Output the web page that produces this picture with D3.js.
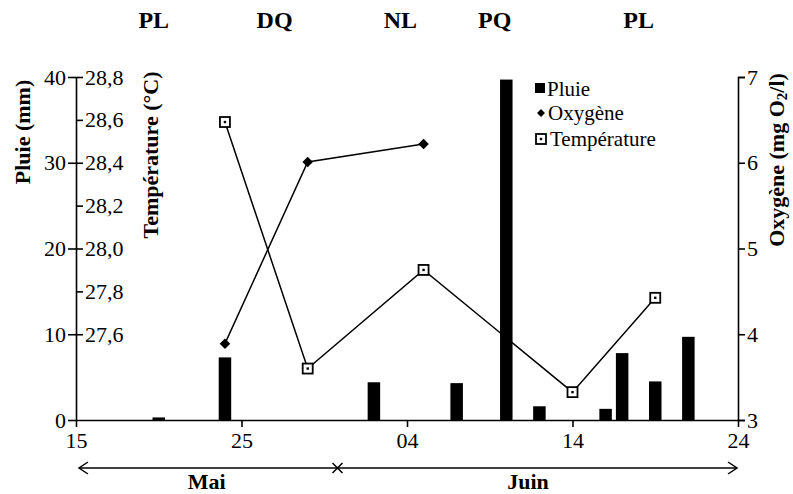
<!DOCTYPE html>
<html>
<head>
<meta charset="utf-8">
<script src="https://cdn.jsdelivr.net/npm/d3@7"></script>
<style>
  body { margin: 0; background: #fff; }
  svg text { font-family: "Liberation Serif", "DejaVu Serif", serif; fill: #000; }
</style>
</head>
<body>
<div></div>
<script>
// days counted from 15 May (15 May = 0, 04 Jun = 20, 24 Jun = 40)
const dayTicks = [0, 10, 20, 30, 40]
const dayLabels = ["15", "25", "04", "14", "24"]

// rain (mm)
const rainDays = [5, 9, 18, 23, 26, 28, 32, 33, 35, 37]
const rainValues = [0.3, 7.3, 4.4, 4.3, 39.7, 1.6, 1.3, 7.8, 4.5, 9.7]

// oxygen (mg O2/l)
const oxyDays = [9, 14, 21]
const oxyValues = [3.89, 6.01, 6.22]

// temperature (°C)
const tempDays = [9, 14, 21, 30, 35]
const tempValues = [28.59, 27.44, 27.90, 27.33, 27.77]

// moon phases on top
const phaseLabels = ["PL", "DQ", "NL", "PQ", "PL"]
const phaseDays = [4.7, 12, 19.6, 25.3, 34]

const rainTicks = [0, 10, 20, 30, 40]
const tempTicks = [27.6, 27.8, 28.0, 28.2, 28.4, 28.6, 28.8]
const oxyTicks = [3, 4, 5, 6, 7]
const monthEnd = 15.8

const W = 793, H = 494
const plotLeft = 76, plotRight = 738, plotTop = 77, base = 420
const serif = "'Liberation Serif', 'DejaVu Serif', serif"

function translate(a, b) { return `translate(${a}, ${b})` }

const svg = d3.select("div").append("svg").attr("width", W).attr("height", H)
  .attr("font-family", serif)

const x = d3.scaleLinear().domain([0, 40]).range([plotLeft, plotRight])
const yRain = d3.scaleLinear().domain([0, 40]).range([base, plotTop])
const yTemp = d3.scaleLinear().domain([27.2, 28.8]).range([base, plotTop])
const yOxy = d3.scaleLinear().domain([3, 7]).range([base, plotTop])

function styleAxis(g) {
  g.attr("font-family", serif).attr("font-size", 22)
  g.selectAll("text").attr("fill", "#000")
  g.selectAll("line,path").attr("stroke", "#000").attr("stroke-width", 1.6)
}

// x axis
svg.append("g").attr("transform", translate(0, base))
  .call(d3.axisBottom(x).tickValues(dayTicks).tickFormat((d, i) => dayLabels[i]).tickSize(7).tickSizeOuter(0).tickPadding(5))
  .call(styleAxis)

// rain axis (left)
svg.append("g").attr("transform", translate(plotLeft, 0))
  .call(d3.axisLeft(yRain).tickValues(rainTicks).tickSize(8).tickSizeOuter(0).tickPadding(2))
  .call(styleAxis)

// temperature axis (same line, ticks to the right)
svg.append("g").attr("transform", translate(plotLeft, 0))
  .call(d3.axisRight(yTemp).tickValues(tempTicks).tickSize(7).tickPadding(2)
    .tickFormat(d => d.toFixed(1).replace(".", ",")))
  .call(styleAxis)
  .call(g => g.select(".domain").remove())

// oxygen axis (right)
svg.append("g").attr("transform", translate(plotRight, 0))
  .call(d3.axisRight(yOxy).tickValues(oxyTicks).tickFormat(d3.format("d")).tickSize(7).tickSizeOuter(7).tickPadding(2))
  .call(styleAxis)

// bars
const barW = 12.5
svg.append("g").selectAll("rect").data(rainDays).join("rect")
  .attr("x", (d) => x(d) - barW / 2)
  .attr("y", (d, i) => yRain(rainValues[i]))
  .attr("width", barW)
  .attr("height", (d, i) => base - yRain(rainValues[i]))
  .attr("fill", "#000")

// lines
const line = d3.line()
svg.append("path")
  .attr("d", line(oxyDays.map((d, i) => [x(d), yOxy(oxyValues[i])])))
  .attr("fill", "none").attr("stroke", "#000").attr("stroke-width", 1.5)
svg.append("path")
  .attr("d", line(tempDays.map((d, i) => [x(d), yTemp(tempValues[i])])))
  .attr("fill", "none").attr("stroke", "#000").attr("stroke-width", 1.5)

const diamond = d3.symbol().type(d3.symbolDiamond2).size(70)
function drawSquare(g, cx, cy) {
  g.append("rect").attr("x", cx - 5).attr("y", cy - 5).attr("width", 10).attr("height", 10)
    .attr("fill", "#fff").attr("stroke", "#000").attr("stroke-width", 1.8)
  g.append("rect").attr("x", cx - 1.2).attr("y", cy - 1.2).attr("width", 2.4).attr("height", 2.4).attr("fill", "#000")
}

svg.append("g").selectAll("path").data(oxyDays).join("path")
  .attr("d", diamond)
  .attr("transform", (d, i) => translate(x(d), yOxy(oxyValues[i])))
  .attr("fill", "#000")

const tempG = svg.append("g")
tempDays.forEach((d, i) => drawSquare(tempG, x(d), yTemp(tempValues[i])))

// axis titles
svg.append("text").attr("transform", translate(30, 132) + " rotate(-90)")
  .attr("text-anchor", "middle").attr("font-size", 22).attr("font-weight", "bold").text("Pluie (mm)")
svg.append("text").attr("transform", translate(158, 155) + " rotate(-90)")
  .attr("text-anchor", "middle").attr("font-size", 22).attr("font-weight", "bold").text("Température (°C)")
const oxT = svg.append("text").attr("transform", translate(784, 160) + " rotate(-90)")
  .attr("text-anchor", "middle").attr("font-size", 22).attr("font-weight", "bold")
oxT.append("tspan").text("Oxygène (mg O")
oxT.append("tspan").text("2").attr("font-size", 15).attr("dy", 3)
oxT.append("tspan").text("/l)").attr("dy", -3)

// moon phases
svg.append("g").selectAll("text").data(phaseDays).join("text")
  .attr("x", d => x(d)).attr("y", 28)
  .attr("text-anchor", "middle").attr("font-size", 24).attr("font-weight", "bold")
  .text((d, i) => phaseLabels[i])

// legend
const lg = svg.append("g").attr("font-size", 21)
lg.append("rect").attr("x", 535).attr("y", 83).attr("width", 10).attr("height", 10).attr("fill", "#000")
lg.append("text").attr("x", 547).attr("y", 96).text("Pluie")
lg.append("path").attr("d", d3.symbol().type(d3.symbolDiamond2).size(40)).attr("transform", translate(541, 113)).attr("fill", "#000")
lg.append("text").attr("x", 548).attr("y", 120).text("Oxygène")
drawSquare(lg, 541, 139)
lg.append("text").attr("x", 550).attr("y", 146).text("Température")

// month arrow
const ay = 468
const mg = svg.append("g").attr("stroke", "#000").attr("stroke-width", 1.5).attr("fill", "none")
mg.append("line").attr("x1", x(0) + 3).attr("x2", x(40) - 1).attr("y1", ay).attr("y2", ay)
mg.append("path").attr("d", `M${x(0) + 12},${ay - 6} L${x(0) + 3},${ay} L${x(0) + 12},${ay + 6}`)
mg.append("path").attr("d", `M${x(40) - 10},${ay - 6} L${x(40) - 1},${ay} L${x(40) - 10},${ay + 6}`)
const cx = x(monthEnd)
mg.append("path").attr("d", `M${cx - 5},${ay - 5} L${cx + 5},${ay + 5} M${cx - 5},${ay + 5} L${cx + 5},${ay - 5}`)

svg.append("text").attr("x", (x(0) + cx) / 2).attr("y", 489).attr("text-anchor", "middle")
  .attr("font-size", 22).attr("font-weight", "bold").text("Mai")
svg.append("text").attr("x", 528).attr("y", 489).attr("text-anchor", "middle")
  .attr("font-size", 22).attr("font-weight", "bold").text("Juin")
</script>
</body>
</html>
